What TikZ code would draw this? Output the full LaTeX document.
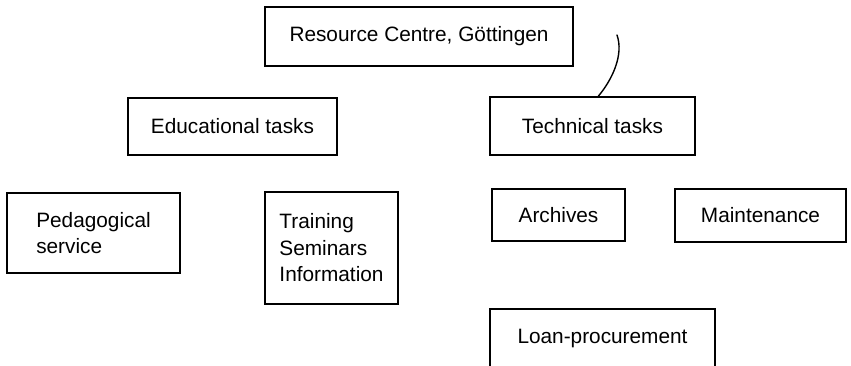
\documentclass[tikz,border=0pt]{standalone}
\usepackage{fontspec}
\setmainfont{Liberation Sans}
\begin{document}
\begin{tikzpicture}[x=1pt,y=-1pt,
  box/.style={draw, line width=1.6pt, inner sep=0pt, align=left,
    font=\fontsize{20.8}{26.5}\selectfont},
  stroke/.style={line width=1.4pt, line cap=round}]
\useasboundingbox (0,0) rectangle (851,365);
\clip (0,0) rectangle (851,365);
\fill[white] (0,0) rectangle (851,365);
\node[box, minimum width=308pt, minimum height=59pt] (rc) at (419,36.5) {Resource Centre, Göttingen};
\node[box, minimum width=209pt, minimum height=57pt] (edu) at (232.5,126.5) {Educational tasks};
\node[box, minimum width=205pt, minimum height=58pt] (tech) at (592.5,126) {Technical tasks};
\node[box, minimum width=173pt, minimum height=80pt] (ped) at (93.5,233) {Pedagogical\\service};
\node[box, minimum width=133pt, minimum height=112pt] (trn) at (331.5,248) {Training\\Seminars\\Information};
\node[box, minimum width=133pt, minimum height=52pt] (arc) at (558.5,215) {Archives};
\node[box, minimum width=171pt, minimum height=53pt] (mnt) at (760.5,215.5) {Maintenance};
\node[box, minimum width=225pt, minimum height=58pt] (loan) at (602.5,338) {Loan-procurement};
\coordinate (mark) at (617,35);
\draw[stroke] (mark) .. controls (624,55) and (612,80) .. (tech.79);
\end{tikzpicture}
\end{document}
